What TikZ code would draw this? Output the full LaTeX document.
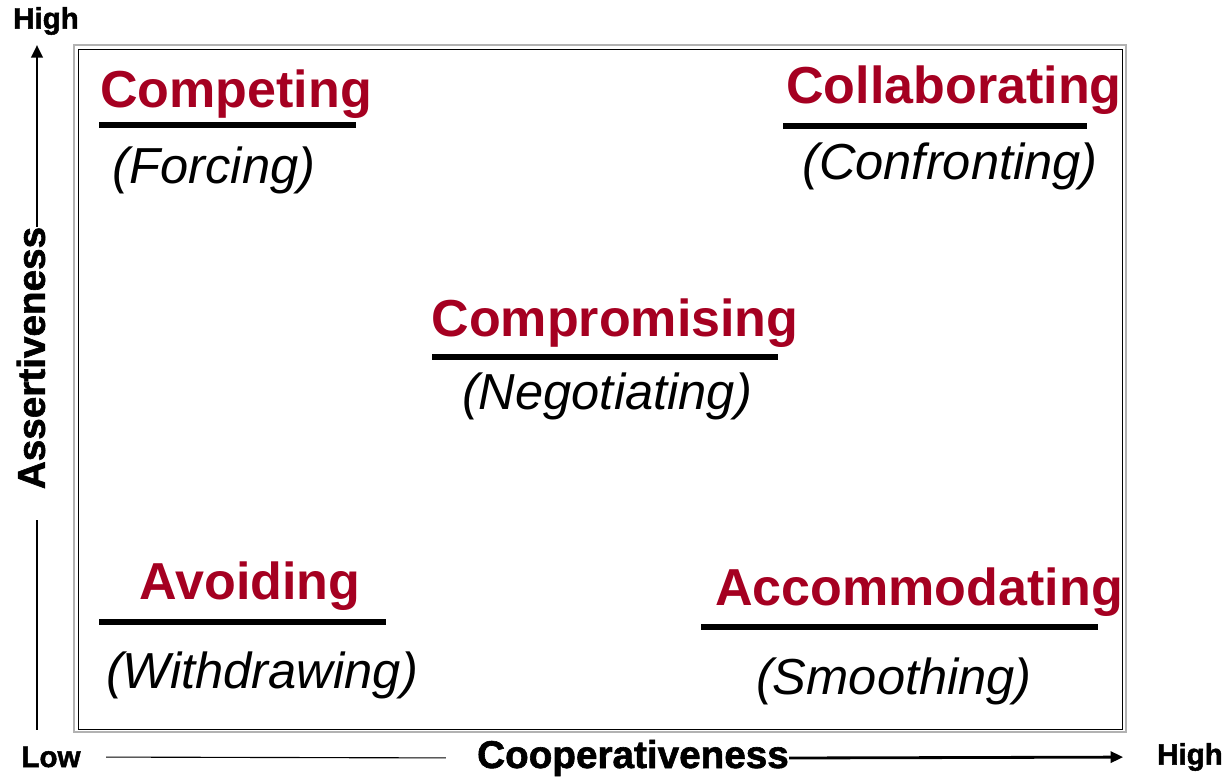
\documentclass[tikz,border=0pt]{standalone}
\usepackage{fontspec}
\setmainfont{Liberation Sans}
\newfontfamily\heavyfont[FakeBold=1.6]{Liberation Sans Bold}
\usetikzlibrary{arrows.meta}

\definecolor{modered}{RGB}{165,0,33}

\tikzset{
  mode/.style={font=\fontsize{37}{40}\selectfont\bfseries, text=modered, inner sep=0pt, anchor=base},
  alias/.style={font=\fontsize{36}{39}\selectfont\itshape, inner sep=0pt, anchor=base},
  axislabel/.style={font=\fontsize{27.5}{30}\selectfont\heavyfont, inner sep=0pt},
  endlabel/.style={font=\fontsize{21}{23}\selectfont\heavyfont, inner sep=0pt},
  bar/.style={line width=4.5pt},
  axisarrow/.style={-{Triangle[length=9pt,width=8pt]}, line width=2pt}
}

\begin{document}
\begin{tikzpicture}[x=0.025cm, y=-0.025cm]
\useasboundingbox (0,0) rectangle (1226,778);

% Frame (double line)
\draw[gray!60, line width=1.4pt] (74,45) rectangle (1126,732);
\draw[black, line width=0.6pt] (78,49) rectangle (1122,729);

% Axis labels
\node[endlabel] (yhigh) at (46,21) {High};
\node[endlabel] (ylow) at (51,757) {Low};
\node[endlabel] (xhigh) at (1190,757) {High};
\node[axislabel, rotate=90] (assert) at (31,358) {Assertiveness};
\node[axislabel] (coop) at (633,758) {Cooperativeness};
\coordinate (yaxis) at (37,0);

% Axes
\draw[axisarrow] (assert.east -| yaxis) -- ([yshift=-7pt]yhigh.south -| yaxis);
\draw[line width=0.8pt, shorten <=22pt, shorten >=12pt] (assert.west -| yaxis) -- (ylow.north -| yaxis);
\draw[line width=0.8pt, shorten <=18pt, shorten >=22pt] (ylow.east) -- (coop.west);
\draw[axisarrow, shorten >=24pt] (coop.east) -- (xhigh.west);

% Conflict modes
\node[mode] (compete) at (236,107) {Competing};
\draw[bar] (99,125) -- (356,125);
\node[alias] (force) at (214,183) {(Forcing)};

\node[mode] (collab) at (954,103) {Collaborating};
\draw[bar] (783,126) -- (1087,126);
\node[alias] (confront) at (950,179) {(Confronting)};

\node[mode] (compro) at (615,336) {Compromising};
\draw[bar] (432,357) -- (778,357);
\node[alias] (negot) at (607,409) {(Negotiating)};

\node[mode] (avoid) at (250,599) {Avoiding};
\draw[bar] (99,622) -- (386,622);
\node[alias] (withdraw) at (262,688) {(Withdrawing)};

\node[mode] (accom) at (919,605) {Accommodating};
\draw[bar] (701,627) -- (1098,627);
\node[alias] (smooth) at (894,694) {(Smoothing)};

\end{tikzpicture}
\end{document}
